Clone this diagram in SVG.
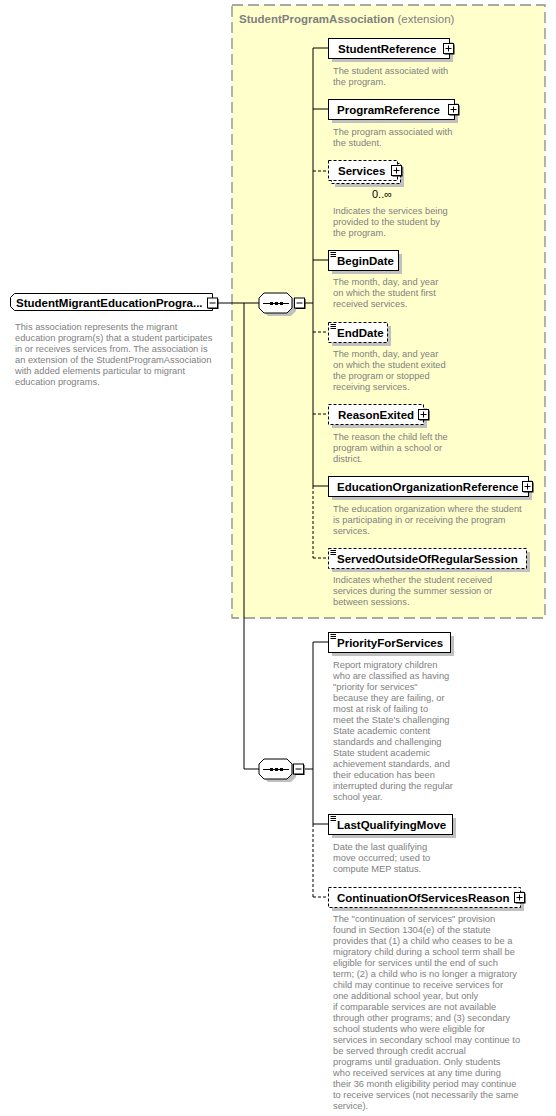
<svg xmlns="http://www.w3.org/2000/svg" xmlns:xlink="http://www.w3.org/1999/xlink" width="556" height="1116" viewBox="0 0 556 1116">
<style>
.bg{fill:#fff}
.ext{fill:#ffffcc;stroke:#8c8c8c;stroke-width:1.3;stroke-dasharray:11,5}
.box{fill:#fff;stroke:#000;stroke-width:1}
.opt{fill:#fff;stroke:#000;stroke-width:1;stroke-dasharray:3,2}
.sh{fill:#c0c0c0}
.lbl{font-family:"Liberation Sans",Arial,sans-serif;font-size:11.5px;font-weight:bold;fill:#000}
.desc{font-family:"Liberation Sans",Arial,sans-serif;font-size:9.3px;fill:#808080}
.title{font-family:"Liberation Sans",Arial,sans-serif;font-size:11.5px;fill:#808080}
.occ{font-family:"Liberation Sans",Arial,sans-serif;font-size:11px;fill:#000}
.ln{stroke:#000;stroke-width:1;fill:none}
.dl{stroke:#000;stroke-width:1;fill:none;stroke-dasharray:3,2}
</style>
<defs>
<g id="pl"><rect x="1.5" y="1.5" width="10" height="10" fill="#000"/><rect x="0.5" y="0.5" width="10" height="10" fill="#fff" stroke="#000"/><path d="M2.5 5.5H8.5M5.5 2.5V8.5" stroke="#000"/></g>
<g id="mi"><rect x="1.5" y="1.5" width="10" height="10" fill="#000"/><rect x="0.5" y="0.5" width="10" height="10" fill="#fff" stroke="#000"/><path d="M2.5 5.5H8.5" stroke="#000"/></g>
<g id="st"><path d="M330.5 0H336M330.5 2H336M330.5 4H336" stroke="#000" stroke-width="1"/></g>
<g id="seq"><path d="M268 3H291L296 8V18L291 23H268L263 18V8Z" fill="#c0c0c0"/><path d="M264 0H287L292 5V15L287 20H264L259 15V5Z" fill="#fff" stroke="#000"/><path d="M263 10.5H289" stroke="#000"/><rect x="270" y="9" width="3" height="3" fill="#000"/><rect x="275" y="9" width="3" height="3" fill="#000"/><rect x="280" y="9" width="3" height="3" fill="#000"/></g>
</defs>
<rect class="bg" x="0" y="0" width="556" height="1116"/>
<rect class="ext" x="232" y="5" width="313" height="613"/>
<text x="239" y="23" class="title"><tspan font-weight="bold">StudentProgramAssociation</tspan> (extension)</text>

<g id="connectors">
<path class="ln" d="M218 303H259"/>
<path class="ln" d="M244 303V769H259"/>
<path class="ln" d="M305 303H313"/>
<path class="ln" d="M313 48V486"/>
<path class="dl" d="M313 486V558"/>
<path class="ln" d="M313 48H328M313 109H328M313 260H328M313 486H328"/>
<path class="dl" d="M313 171H328M313 332H328M313 414H328M313 558H328"/>
<path class="ln" d="M305 769H313"/>
<path class="ln" d="M313 642V824"/>
<path class="dl" d="M313 824V897"/>
<path class="ln" d="M313 642H328M313 824H328"/>
<path class="dl" d="M313 897H328"/>
</g>

<g id="root">
<path class="box" d="M14.5 293.5H212.5V310.5H14.5L10.5 306.5V297.5Z"/>
<text x="16" y="306.5" class="lbl">StudentMigrantEducationProgra...</text>
<use xlink:href="#mi" x="207" y="297.5"/>
<text class="desc"><tspan x="15" y="329.5">This association represents the migrant</tspan><tspan x="15" y="340.5">education program(s) that a student participates</tspan><tspan x="15" y="351.5">in or receives services from. The association is</tspan><tspan x="15" y="362.5">an extension of the StudentProgramAssociation</tspan><tspan x="15" y="373.5">with added elements particular to migrant</tspan><tspan x="15" y="384.5">education programs.</tspan></text>
</g>

<g id="seq1">
<use xlink:href="#seq" x="0" y="293"/>
<use xlink:href="#mi" x="294" y="297.5"/>
</g>

<g id="StudentReference">
<rect class="sh" x="332" y="42" width="121" height="20"/>
<rect class="box" x="328.5" y="38.5" width="121" height="20"/>
<text x="338" y="53" class="lbl">StudentReference</text>
<use xlink:href="#pl" x="443" y="43"/>
<text class="desc"><tspan x="333" y="74">The student associated with</tspan><tspan x="333" y="85">the program.</tspan></text>
</g>

<g id="ProgramReference">
<rect class="sh" x="332" y="103" width="126" height="20"/>
<rect class="box" x="328.5" y="99.5" width="126" height="20"/>
<text x="337" y="114" class="lbl">ProgramReference</text>
<use xlink:href="#pl" x="448" y="104"/>
<text class="desc"><tspan x="333" y="135">The program associated with</tspan><tspan x="333" y="146">the student.</tspan></text>
</g>

<g id="Services">
<rect class="sh" x="335" y="167" width="69" height="20"/>
<rect class="opt" x="331.5" y="163.5" width="69" height="20"/>
<rect class="opt" x="328.5" y="160.5" width="69" height="20"/>
<text x="338" y="175" class="lbl">Services</text>
<use xlink:href="#pl" x="391" y="165"/>
<text x="372" y="198" class="occ">0..∞</text>
<text class="desc"><tspan x="333" y="213.5">Indicates the services being</tspan><tspan x="333" y="224.5">provided to the student by</tspan><tspan x="333" y="235.5">the program.</tspan></text>
</g>

<g id="BeginDate">
<rect class="sh" x="332" y="254" width="70" height="20"/>
<rect class="box" x="328.5" y="250.5" width="70" height="20"/>
<use xlink:href="#st" x="0" y="252.5"/>
<text x="337" y="264.5" class="lbl">BeginDate</text>
<text class="desc"><tspan x="333" y="285">The month, day, and year</tspan><tspan x="333" y="296">on which the student first</tspan><tspan x="333" y="307">received services.</tspan></text>
</g>

<g id="EndDate">
<rect class="sh" x="332" y="326" width="59" height="20"/>
<rect class="opt" x="328.5" y="322.5" width="59" height="20"/>
<use xlink:href="#st" x="0" y="324.5"/>
<text x="337" y="336.5" class="lbl">EndDate</text>
<text class="desc"><tspan x="333" y="356.5">The month, day, and year</tspan><tspan x="333" y="367.5">on which the student exited</tspan><tspan x="333" y="378.5">the program or stopped</tspan><tspan x="333" y="389.5">receiving services.</tspan></text>
</g>

<g id="ReasonExited">
<rect class="sh" x="332" y="408" width="95" height="20"/>
<rect class="opt" x="328.5" y="404.5" width="95" height="20"/>
<text x="338" y="419" class="lbl">ReasonExited</text>
<use xlink:href="#pl" x="418" y="409"/>
<text class="desc"><tspan x="333" y="440">The reason the child left the</tspan><tspan x="333" y="451">program within a school or</tspan><tspan x="333" y="462">district.</tspan></text>
</g>

<g id="EducationOrganizationReference">
<rect class="sh" x="332" y="480" width="200" height="20"/>
<rect class="box" x="328.5" y="476.5" width="200" height="20"/>
<text x="337" y="491" class="lbl">EducationOrganizationReference</text>
<use xlink:href="#pl" x="522" y="481"/>
<text class="desc"><tspan x="333" y="512">The education organization where the student</tspan><tspan x="333" y="523">is participating in or receiving the program</tspan><tspan x="333" y="534">services.</tspan></text>
</g>

<g id="ServedOutsideOfRegularSession">
<rect class="sh" x="332" y="552" width="198" height="20"/>
<rect class="opt" x="328.5" y="548.5" width="198" height="20"/>
<use xlink:href="#st" x="0" y="550.5"/>
<text x="337" y="563" class="lbl">ServedOutsideOfRegularSession</text>
<text class="desc"><tspan x="333" y="583">Indicates whether the student received</tspan><tspan x="333" y="594">services during the summer session or</tspan><tspan x="333" y="605">between sessions.</tspan></text>
</g>

<g id="seq2">
<use xlink:href="#seq" x="0" y="759"/>
<use xlink:href="#mi" x="293" y="763.5"/>
</g>

<g id="PriorityForServices">
<rect class="sh" x="332" y="636" width="122" height="20"/>
<rect class="box" x="328.5" y="632.5" width="122" height="20"/>
<use xlink:href="#st" x="0" y="634.5"/>
<text x="337" y="647" class="lbl">PriorityForServices</text>
<text class="desc"><tspan x="333" y="668">Report migratory children</tspan><tspan x="333" y="679">who are classified as having</tspan><tspan x="333" y="690">"priority for services"</tspan><tspan x="333" y="701">because they are failing, or</tspan><tspan x="333" y="712">most at risk of failing to</tspan><tspan x="333" y="723">meet the State's challenging</tspan><tspan x="333" y="734">State academic content</tspan><tspan x="333" y="745">standards and challenging</tspan><tspan x="333" y="756">State student academic</tspan><tspan x="333" y="767">achievement standards, and</tspan><tspan x="333" y="778">their education has been</tspan><tspan x="333" y="789">interrupted during the regular</tspan><tspan x="333" y="800">school year.</tspan></text>
</g>

<g id="LastQualifyingMove">
<rect class="sh" x="332" y="818" width="124" height="20"/>
<rect class="box" x="328.5" y="814.5" width="124" height="20"/>
<use xlink:href="#st" x="0" y="816.5"/>
<text x="337" y="829" class="lbl">LastQualifyingMove</text>
<text class="desc"><tspan x="333" y="850">Date the last qualifying</tspan><tspan x="333" y="861">move occurred; used to</tspan><tspan x="333" y="872">compute MEP status.</tspan></text>
</g>

<g id="ContinuationOfServicesReason">
<rect class="sh" x="332" y="891" width="192" height="20"/>
<rect class="opt" x="328.5" y="887.5" width="192" height="20"/>
<text x="337" y="902" class="lbl">ContinuationOfServicesReason</text>
<use xlink:href="#pl" x="514" y="892"/>
<text class="desc"><tspan x="333" y="922">The "continuation of services" provision</tspan><tspan x="333" y="933">found in Section 1304(e) of the statute</tspan><tspan x="333" y="944">provides that (1) a child who ceases to be a</tspan><tspan x="333" y="955">migratory child during a school term shall be</tspan><tspan x="333" y="966">eligible for services until the end of such</tspan><tspan x="333" y="977">term; (2) a child who is no longer a migratory</tspan><tspan x="333" y="988">child may continue to receive services for</tspan><tspan x="333" y="999">one additional school year, but only</tspan><tspan x="333" y="1010">if comparable services are not available</tspan><tspan x="333" y="1021">through other programs; and (3) secondary</tspan><tspan x="333" y="1032">school students who were eligible for</tspan><tspan x="333" y="1043">services in secondary school may continue to</tspan><tspan x="333" y="1054">be served through credit accrual</tspan><tspan x="333" y="1065">programs until graduation. Only students</tspan><tspan x="333" y="1076">who received services at any time during</tspan><tspan x="333" y="1087">their 36 month eligibility period may continue</tspan><tspan x="333" y="1098">to receive services (not necessarily the same</tspan><tspan x="333" y="1109">service).</tspan></text>
</g>
</svg>
